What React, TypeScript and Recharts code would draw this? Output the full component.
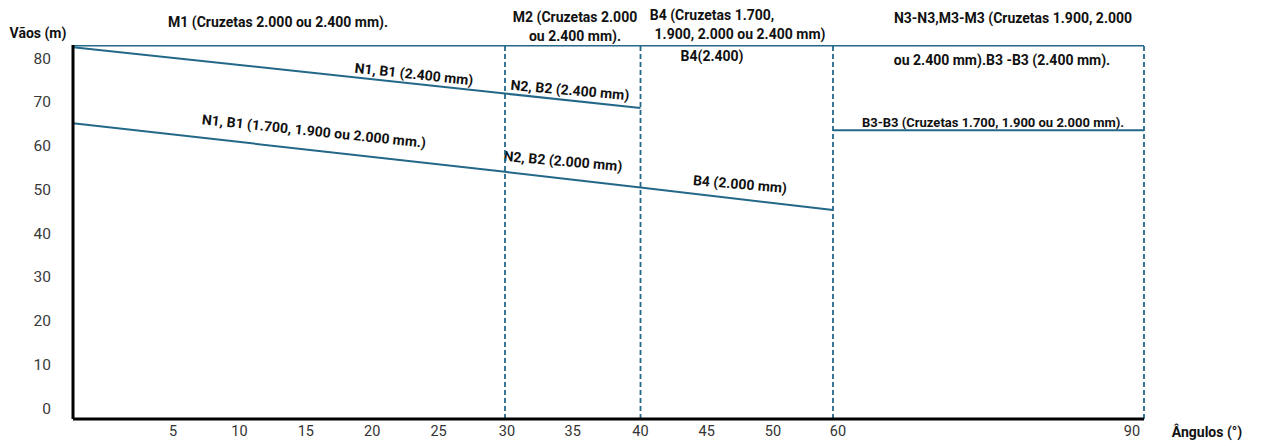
import React from 'react';
import { LineChart, Line, XAxis, YAxis, ReferenceLine, Customized } from 'recharts';

// angles (°) where the limit lines change
const angles = [0, 30, 40, 60, 90];
// span limits (m), null = no segment at that angle
const topLimit = [83, 83, 83, 83, 83];
const span2400 = [82.5, 71.9, 68.6, null, null];
const span2000 = [65.1, 54.0, 50.4, 45.3, null];
const spanB3 = [null, null, null, 63.5, 63.5];

const xTicks = [5, 10, 15, 20, 25, 30, 35, 40, 45, 50, 60, 90];
const yTicks = [0, 10, 20, 30, 40, 50, 60, 70, 80];
const dividers = [30, 40, 60, 90];

const LINE = '#236888';
const FONT = '"Roboto", "DejaVu Sans", sans-serif';

const data = angles.map((a, i) => ({
  angle: a,
  top: topLimit[i],
  s2400: span2400[i],
  s2000: span2000[i],
  b3: spanB3[i],
}));

// the source axis isn't linear: piecewise mapping angle -> fraction of width
const knots = [0, 5, 30, 40, 50, 60, 90];
const fracs = [0, 100 / 1071, 432 / 1071, 567.5 / 1071, 700 / 1071, 760 / 1071, 1];

function piecewiseScale(): any {
  let dom = [0, 90];
  let rng = [0, 1];
  const toFrac = (v: number) => {
    for (let i = 1; i < knots.length; i++) {
      if (v <= knots[i] || i === knots.length - 1) {
        const t = (v - knots[i - 1]) / (knots[i] - knots[i - 1]);
        return fracs[i - 1] + t * (fracs[i] - fracs[i - 1]);
      }
    }
    return 0;
  };
  const scale: any = (v: number) => rng[0] + toFrac(v) * (rng[1] - rng[0]);
  scale.domain = (d?: any) => {
    if (d === undefined) return dom;
    dom = d;
    return scale;
  };
  scale.range = (r?: any) => {
    if (r === undefined) return rng;
    rng = r;
    return scale;
  };
  scale.copy = () => piecewiseScale().domain(dom).range(rng);
  scale.ticks = () => xTicks;
  scale.invert = (px: number) => {
    const f = (px - rng[0]) / (rng[1] - rng[0]);
    for (let i = 1; i < fracs.length; i++) {
      if (f <= fracs[i]) {
        const t = (f - fracs[i - 1]) / (fracs[i] - fracs[i - 1]);
        return knots[i - 1] + t * (knots[i] - knots[i - 1]);
      }
    }
    return dom[1];
  };
  return scale;
}

const tickShift: Record<number, number> = { 30: 2, 60: 5, 90: -12 };

const XTick = (props: any) => {
  const { x, y, payload } = props;
  return (
    <text x={x + (tickShift[payload.value] ?? 0)} y={y} dy="0.71em" textAnchor="middle"
      fontSize={14.5} fill="#333" fontFamily={FONT}>
      {payload.value}
    </text>
  );
};

type Note = { text: string; x: number; y: number; rot?: number; size?: number };

const notes: Note[] = [
  { text: 'M1 (Cruzetas 2.000 ou 2.400 mm).', x: 278, y: 22 },
  { text: 'M2 (Cruzetas 2.000', x: 575, y: 17 },
  { text: 'ou 2.400 mm).', x: 575, y: 36 },
  { text: 'B4  (Cruzetas 1.700,', x: 712, y: 15 },
  { text: '1.900, 2.000 ou 2.400 mm)', x: 740, y: 34 },
  { text: 'N3-N3,M3-M3 (Cruzetas 1.900, 2.000', x: 1013, y: 18 },
  { text: 'B4(2.400)', x: 712, y: 56 },
  { text: 'ou 2.400 mm).B3 -B3 (2.400 mm).', x: 1002, y: 60 },
  { text: 'N1, B1 (2.400 mm)', x: 414, y: 74, rot: 6 },
  { text: 'N2, B2 (2.400 mm)', x: 570, y: 90, rot: 5 },
  { text: 'N1, B1 (1.700, 1.900 ou 2.000 mm.)', x: 314, y: 131, rot: 6 },
  { text: 'N2, B2 (2.000 mm)', x: 563, y: 161, rot: 5 },
  { text: 'B4 (2.000 mm)', x: 740, y: 184, rot: 5 },
  { text: 'B3-B3 (Cruzetas 1.700, 1.900 ou 2.000 mm).', x: 993, y: 122, size: 13 },
  { text: 'Vãos (m)', x: 38, y: 33 },
  { text: 'Ângulos (°)', x: 1207, y: 432 },
];

const Notes = () => (
  <g>
    {notes.map((n) => (
      <text key={n.text} x={n.x} y={n.y} textAnchor="middle" dominantBaseline="central"
        fontSize={n.size ?? 14} fontWeight="bold" fill="#111" fontFamily={FONT}
        transform={n.rot ? `rotate(${n.rot} ${n.x} ${n.y})` : undefined}>
        {n.text}
      </text>
    ))}
  </g>
);

export default function App() {
  return (
    <div style={{ position: 'absolute', left: 0, top: 0, background: '#fff' }}>
      <LineChart width={1263} height={446} data={data}
        margin={{ top: 45, right: 119, bottom: 0, left: 0 }}>
        <XAxis dataKey="angle" type="number" domain={[0, 90]} scale={piecewiseScale()}
          ticks={xTicks} interval={0} height={27} tickSize={0} tickMargin={7}
          tick={<XTick />} axisLine={{ stroke: '#000', strokeWidth: 3 }} allowDataOverflow />
        <YAxis type="number" domain={[-2.5, 83]} ticks={yTicks} width={73} interval={0}
          tickSize={0} tickMargin={22} allowDataOverflow
          tick={{ fontSize: 15.5, fill: '#3a3a3a', fontFamily: FONT }}
          axisLine={{ stroke: '#000', strokeWidth: 3 }} />
        {dividers.map((d) => (
          <ReferenceLine key={d} x={d} stroke={LINE} strokeWidth={1.8} strokeDasharray="5 3" />
        ))}
        <Line dataKey="top" stroke={LINE} strokeWidth={3} dot={false} isAnimationActive={false} />
        <Line dataKey="s2400" stroke={LINE} strokeWidth={2} dot={false} isAnimationActive={false} />
        <Line dataKey="s2000" stroke={LINE} strokeWidth={2} dot={false} isAnimationActive={false} />
        <Line dataKey="b3" stroke={LINE} strokeWidth={2} dot={false} isAnimationActive={false} />
        <Customized component={Notes} />
      </LineChart>
    </div>
  );
}
